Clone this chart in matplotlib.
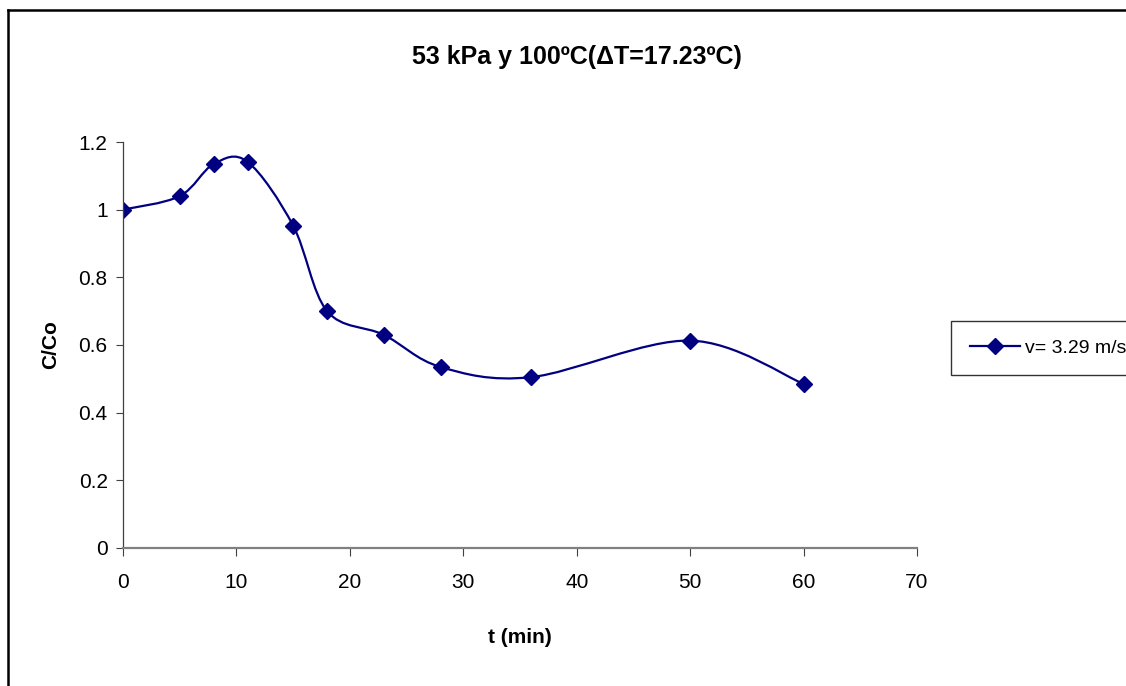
import matplotlib
matplotlib.use("Agg")
import matplotlib.pyplot as plt
import numpy as np
from matplotlib.path import Path
from matplotlib.patches import PathPatch
from matplotlib.lines import Line2D

plt.rcParams['font.family'] = ['Liberation Sans', 'DejaVu Sans']

# datos
t_min = [0, 5, 8, 11, 15, 18, 23, 28, 36, 50, 60]
c_co = [1.0, 1.04, 1.135, 1.141, 0.953, 0.70, 0.63, 0.535, 0.505, 0.613, 0.485]
serie = "v= 3.29 m/s"
titulo = "53 kPa y 100ºC(ΔT=17.23ºC)"
color = "#000080"


def smooth_path(x, y):
    # curva suavizada tipo Excel (Bezier a partir de los puntos)
    p = np.column_stack([x, y]).astype(float)
    verts = [p[0]]
    codes = [Path.MOVETO]
    n = len(p)
    for i in range(n - 1):
        p0 = p[i - 1] if i > 0 else p[i]
        p3 = p[i + 2] if i + 2 < n else p[i + 1]
        c1 = p[i] + (p[i + 1] - p0) / 6.0
        c2 = p[i + 1] - (p3 - p[i]) / 6.0
        verts += [c1, c2, p[i + 1]]
        codes += [Path.CURVE4] * 3
    return Path(verts, codes)


fig = plt.figure(figsize=(11.26, 6.86), dpi=100)
ax = fig.add_axes([0.1092, 0.2012, 0.7052, 0.5918])

ax.add_patch(PathPatch(smooth_path(t_min, c_co), fill=False, ec=color, lw=1.6))
ax.plot(t_min, c_co, ls='none', marker='D', ms=8, color=color)

ax.set_xlim(0, 70)
ax.set_ylim(0, 1.2)
ax.set_xticks(np.arange(0, 71, 10))
ax.set_yticks([0, 0.2, 0.4, 0.6, 0.8, 1, 1.2])
ax.set_yticklabels(['0', '0.2', '0.4', '0.6', '0.8', '1', '1.2'])
ax.tick_params(axis='x', length=6, pad=12, labelsize=15, color='#404040')
ax.tick_params(axis='y', length=5, pad=6, labelsize=15, color='#404040')
for s in ['top', 'right']:
    ax.spines[s].set_visible(False)
ax.spines['left'].set_color('#404040')
ax.spines['left'].set_linewidth(0.9)
ax.spines['bottom'].set_color('#808080')
ax.spines['bottom'].set_linewidth(1.6)

fig.text(0.512, 0.917, titulo, ha='center', va='center', fontsize=18, fontweight='bold')
fig.text(0.462, 0.070, "t (min)", ha='center', va='center', fontsize=15, fontweight='bold')
fig.text(0.045, 0.497, "C/Co", ha='center', va='center', rotation=90, fontsize=15, fontweight='bold')

h = Line2D([], [], color=color, lw=1.6, marker='D', ms=8)
leg = fig.legend([h], [serie], loc='center left', bbox_to_anchor=(0.845, 0.493),
                 fontsize=14, frameon=True, fancybox=False, edgecolor='black',
                 handlelength=2.6, borderpad=0.95, borderaxespad=0,
                 handletextpad=0.25)
leg.get_frame().set_linewidth(1.0)

# borde exterior del grafico
fig.add_artist(Line2D([8 / 1126, 8 / 1126], [0, 1 - 10 / 686], transform=fig.transFigure,
                      color='black', lw=1.8))
fig.add_artist(Line2D([8 / 1126, 1], [1 - 10 / 686, 1 - 10 / 686], transform=fig.transFigure,
                      color='black', lw=1.8))

fig.savefig("out.png", dpi=100)
